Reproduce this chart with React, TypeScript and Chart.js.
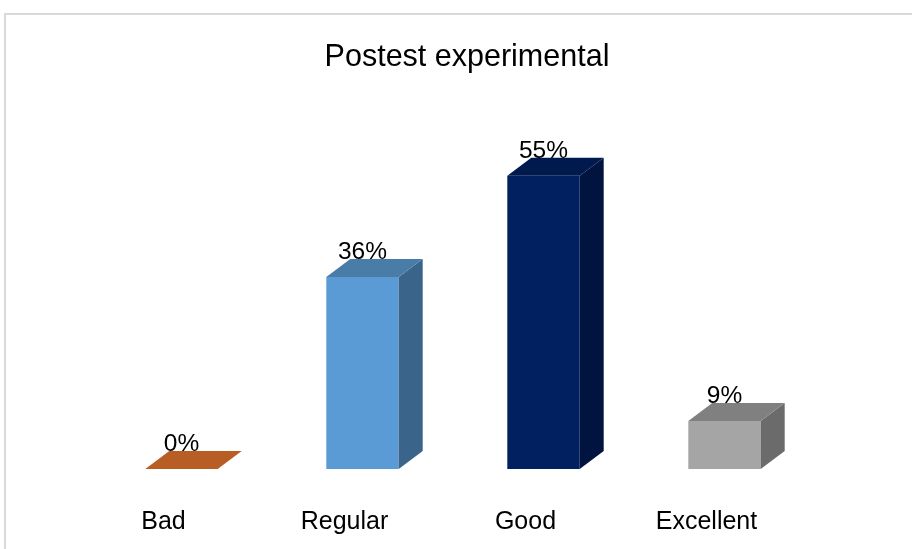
import React, { useEffect, useRef } from "react";
import { Chart, registerables } from "chart.js";

Chart.register(...registerables);

const categories = ["Bad", "Regular", "Good", "Excellent"];
const values = [0, 36, 55, 9];
const valueLabels = ["0%", "36%", "55%", "9%"];
const titleText = "Postest experimental";

const frontColors = ["#ED7D31", "#5B9BD5", "#002060", "#A5A5A5"];
const sideColors = ["#8A4A1E", "#3A6489", "#00143F", "#6B6B6B"];
const topColors = ["#B85E24", "#4A7CA8", "#001A4D", "#808080"];

const DEPTH_X = 24;
const DEPTH_Y = 18;
const FONT = "'Liberation Sans', Arial, sans-serif";

const bar3dPlugin = {
  id: "bar3d",
  beforeDraw(chart: any) {
    const ctx = chart.ctx;
    ctx.save();
    ctx.fillStyle = "#ffffff";
    ctx.fillRect(0, 0, chart.width, chart.height);
    ctx.strokeStyle = "#D9D9D9";
    ctx.lineWidth = 2;
    ctx.strokeRect(5, 14, chart.width + 20, chart.height + 20);
    ctx.fillStyle = "#000000";
    ctx.font = `30.5px ${FONT}`;
    ctx.textAlign = "center";
    ctx.textBaseline = "middle";
    ctx.fillText(titleText, 467, 58);
    ctx.restore();
  },
  afterDatasetsDraw(chart: any) {
    const ctx = chart.ctx;
    const meta = chart.getDatasetMeta(0);
    ctx.save();
    meta.data.forEach((bar: any, i: number) => {
      const p = bar.getProps(["x", "y", "base", "width"], true);
      const l = p.x - p.width / 2;
      const r = p.x + p.width / 2;
      const top = p.y;
      const base = p.base;
      if (base - top > 0.5) {
        ctx.fillStyle = sideColors[i];
        ctx.beginPath();
        ctx.moveTo(r, top);
        ctx.lineTo(r + DEPTH_X, top - DEPTH_Y);
        ctx.lineTo(r + DEPTH_X, base - DEPTH_Y);
        ctx.lineTo(r, base);
        ctx.closePath();
        ctx.fill();
      }
      ctx.fillStyle = topColors[i];
      ctx.beginPath();
      ctx.moveTo(l, top);
      ctx.lineTo(r, top);
      ctx.lineTo(r + DEPTH_X, top - DEPTH_Y);
      ctx.lineTo(l + DEPTH_X, top - DEPTH_Y);
      ctx.closePath();
      ctx.fill();

      ctx.fillStyle = "#000000";
      ctx.font = `24.5px ${FONT}`;
      ctx.textAlign = "center";
      ctx.textBaseline = "alphabetic";
      ctx.fillText(valueLabels[i], p.x, top - DEPTH_Y);
    });
    ctx.restore();
  },
};

export default function App() {
  const ref = useRef<HTMLCanvasElement>(null);
  useEffect(() => {
    if (!ref.current) return;
    const chart = new Chart(ref.current, {
      type: "bar",
      data: {
        labels: categories,
        datasets: [
          {
            data: values,
            backgroundColor: frontColors,
            borderWidth: 0,
            barPercentage: 0.4,
            categoryPercentage: 1,
          },
        ],
      },
      options: {
        responsive: false,
        animation: false,
        layout: { padding: { left: 91, right: 97, top: 149, bottom: -26 } },
        plugins: {
          legend: { display: false },
          tooltip: { enabled: false },
          title: { display: false },
        },
        scales: {
          x: {
            grid: { display: false, drawTicks: false },
            border: { display: false },
            ticks: {
              color: "#000000",
              font: { family: FONT, size: 25 },
              padding: 38,
              labelOffset: -18,
            },
          },
          y: {
            display: false,
            min: 0,
            max: 60,
          },
        },
      },
      plugins: [bar3dPlugin],
    });
    return () => chart.destroy();
  }, []);
  return (
    <div style={{ position: "fixed", left: 0, top: 0, width: 912, height: 549 }}>
      <canvas ref={ref} width={912} height={549} style={{ display: "block" }} />
    </div>
  );
}
